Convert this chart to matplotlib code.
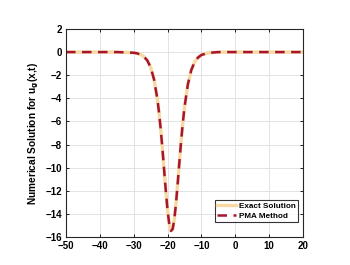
import matplotlib
matplotlib.use("Agg")
import matplotlib.pyplot as plt

plt.rcParams['font.family'] = ['Liberation Sans', 'DejaVu Sans']
plt.rcParams['font.weight'] = 'bold'

# values
x_vals = [-50, -40, -35, -30, -29, -28, -27, -26, -25, -24, -23, -22.5, -22, -21.5,
          -21, -20.5, -20, -19.5, -19, -18.5, -18, -17.5, -17, -16.5, -16, -15.5,
          -15, -14, -13, -12, -11, -10, -8, -5, 0, 10, 20]
u_vals = [0, 0, 0, -0.06, -0.11, -0.21, -0.39, -0.72, -1.31, -2.36, -4.08, -5.28, -6.73, -8.42,
          -10.25, -12.06, -13.69, -14.89, -15.47, -15.32, -14.47, -13.07, -11.35, -9.50, -7.72, -6.15,
          -4.78, -2.79, -1.56, -0.86, -0.47, -0.25, -0.07, 0, 0, 0, 0]

xticks = list(range(-50, 21, 10))
yticks = list(range(-16, 3, 2))

fig = plt.figure(figsize=(3.5, 2.65), dpi=100)
ax = fig.add_axes([0.1886, 0.1057, 0.677, 0.785])

ax.plot(x_vals, u_vals, color='#F7D9A3', lw=2.4, label='Exact Solution')
ax.plot(x_vals, u_vals, color='#A8152E', lw=1.8, ls=(0, (3.8, 2.6)), label='PMA Method')

ax.set_xlim(-50, 20)
ax.set_ylim(-16, 2)
ax.set_xticks(xticks)
ax.set_yticks(yticks)
ax.grid(True, color='#E3E3E3', lw=0.7)
ax.set_axisbelow(True)
ax.tick_params(direction='in', length=2.5, width=0.6, labelsize=7, top=True, right=True, pad=3)
for s in ax.spines.values():
    s.set_linewidth(0.8)
    s.set_color('#262626')

ax.set_ylabel('Numerical Solution for u$_\\mathbf{g}$(x,t)', fontsize=7.3, fontweight='bold', labelpad=3)

leg = ax.legend(loc='lower right', bbox_to_anchor=(0.979, 0.072), fontsize=5.9, frameon=True,
                fancybox=False, edgecolor='black', handlelength=2.3, borderpad=0.3,
                labelspacing=0.25, handletextpad=0.3, borderaxespad=0)
leg.get_frame().set_linewidth(0.8)

fig.savefig('out.png', dpi=100)
